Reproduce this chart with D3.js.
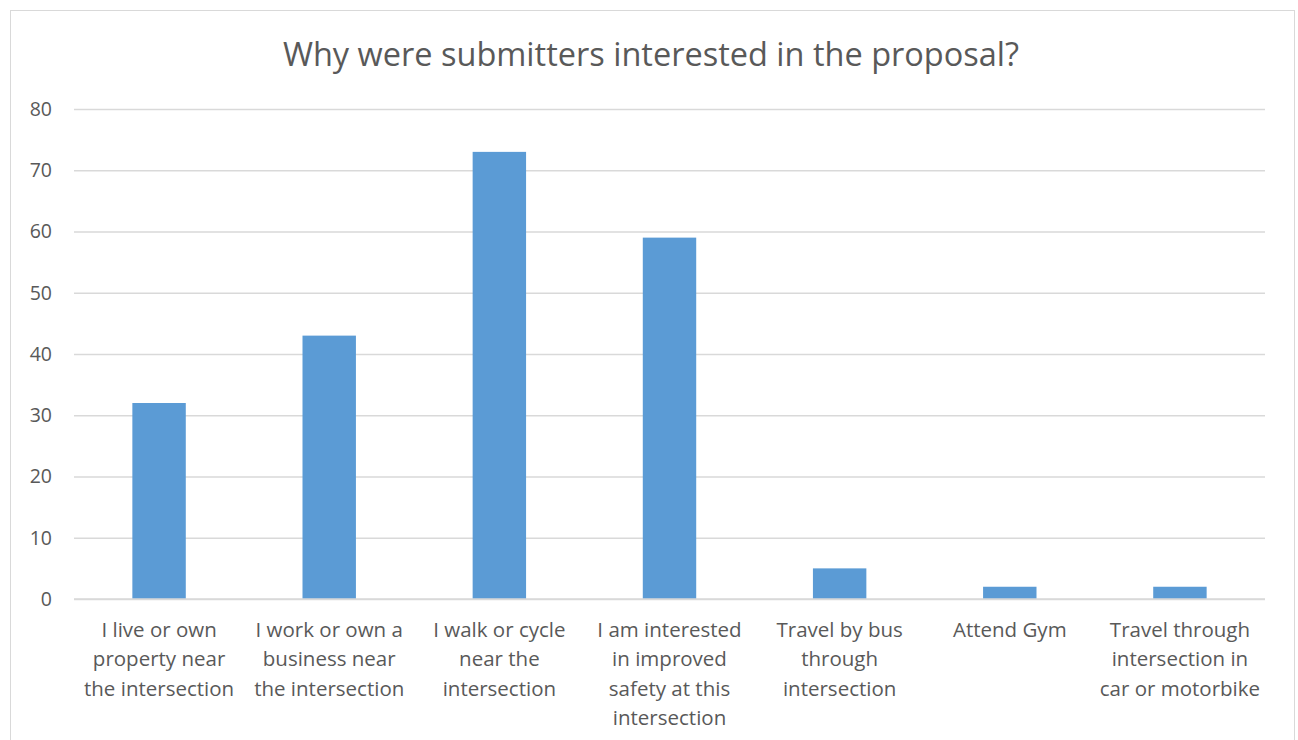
<!DOCTYPE html>
<html>
<head>
<meta charset="utf-8">
<script src="https://cdn.jsdelivr.net/npm/d3@7"></script>
<style>
  html, body { margin: 0; padding: 0; background: #fff; }
  svg { display: block; }
  text { font-family: "Open Sans", Lato, sans-serif; fill: #595959; }
</style>
</head>
<body>
<svg id="chart" width="1298" height="740"></svg>
<script>
// Reasons given by submitters (multi-line category labels)
const categories = [
  ["I live or own", "property near", "the intersection"],
  ["I work or own a", "business near", "the intersection"],
  ["I walk or cycle", "near the", "intersection"],
  ["I am interested", "in improved", "safety at this", "intersection"],
  ["Travel by bus", "through", "intersection"],
  ["Attend Gym"],
  ["Travel through", "intersection in", "car or motorbike"]
];
const counts = [32, 43, 73, 59, 5, 2, 2];
const yTicks = [0, 10, 20, 30, 40, 50, 60, 70, 80];
const title = "Why were submitters interested in the proposal?";

const svg = d3.select("#chart");
const plot = { left: 74, right: 1265, top: 109, bottom: 599 };

// chart frame
svg.append("rect")
  .attr("x", 10.5).attr("y", 10.5)
  .attr("width", 1284).attr("height", 760)
  .attr("fill", "#fff").attr("stroke", "#d9d9d9").attr("stroke-width", 1);

const x = d3.scaleBand()
  .domain(d3.range(categories.length))
  .range([plot.left, plot.right])
  .paddingInner(0.686)
  .paddingOuter(0.343);

const y = d3.scaleLinear()
  .domain([0, 80])
  .range([plot.bottom, plot.top]);

// gridlines + y labels
const yAxis = d3.axisLeft(y)
  .tickValues(yTicks)
  .tickSize(-(plot.right - plot.left))
  .tickPadding(22);

const gy = svg.append("g")
  .attr("transform", `translate(${plot.left},0)`)
  .call(yAxis);
gy.select(".domain").remove();
gy.selectAll(".tick line").attr("stroke", "#d9d9d9").attr("stroke-width", 1.3);
gy.selectAll(".tick text")
  .attr("fill", "#595959")
  .style("font-size", "19.5px")
  .style("font-family", "'Open Sans', Lato, sans-serif");

// bars
svg.append("g")
  .selectAll("rect")
  .data(counts)
  .join("rect")
  .attr("x", (d, i) => x(i))
  .attr("y", d => y(d))
  .attr("width", x.bandwidth())
  .attr("height", d => y(0) - y(d))
  .attr("fill", "#5b9bd5");

// baseline
svg.append("line")
  .attr("x1", plot.left).attr("x2", plot.right)
  .attr("y1", y(0)).attr("y2", y(0))
  .attr("stroke", "#d9d9d9").attr("stroke-width", 1.3);

// category labels
const labels = svg.append("g")
  .selectAll("text")
  .data(categories)
  .join("text")
  .attr("text-anchor", "middle")
  .style("font-size", "20.5px")
  .attr("transform", (d, i) => `translate(${x(i) + x.bandwidth() / 2},637)`);
labels.selectAll("tspan")
  .data(d => d)
  .join("tspan")
  .attr("x", 0)
  .attr("dy", (d, j) => j === 0 ? 0 : 29.3)
  .text(d => d);

// title
svg.append("text")
  .attr("x", 651).attr("y", 66)
  .attr("text-anchor", "middle")
  .style("font-size", "32.5px")
  .text(title);
</script>
</body>
</html>
